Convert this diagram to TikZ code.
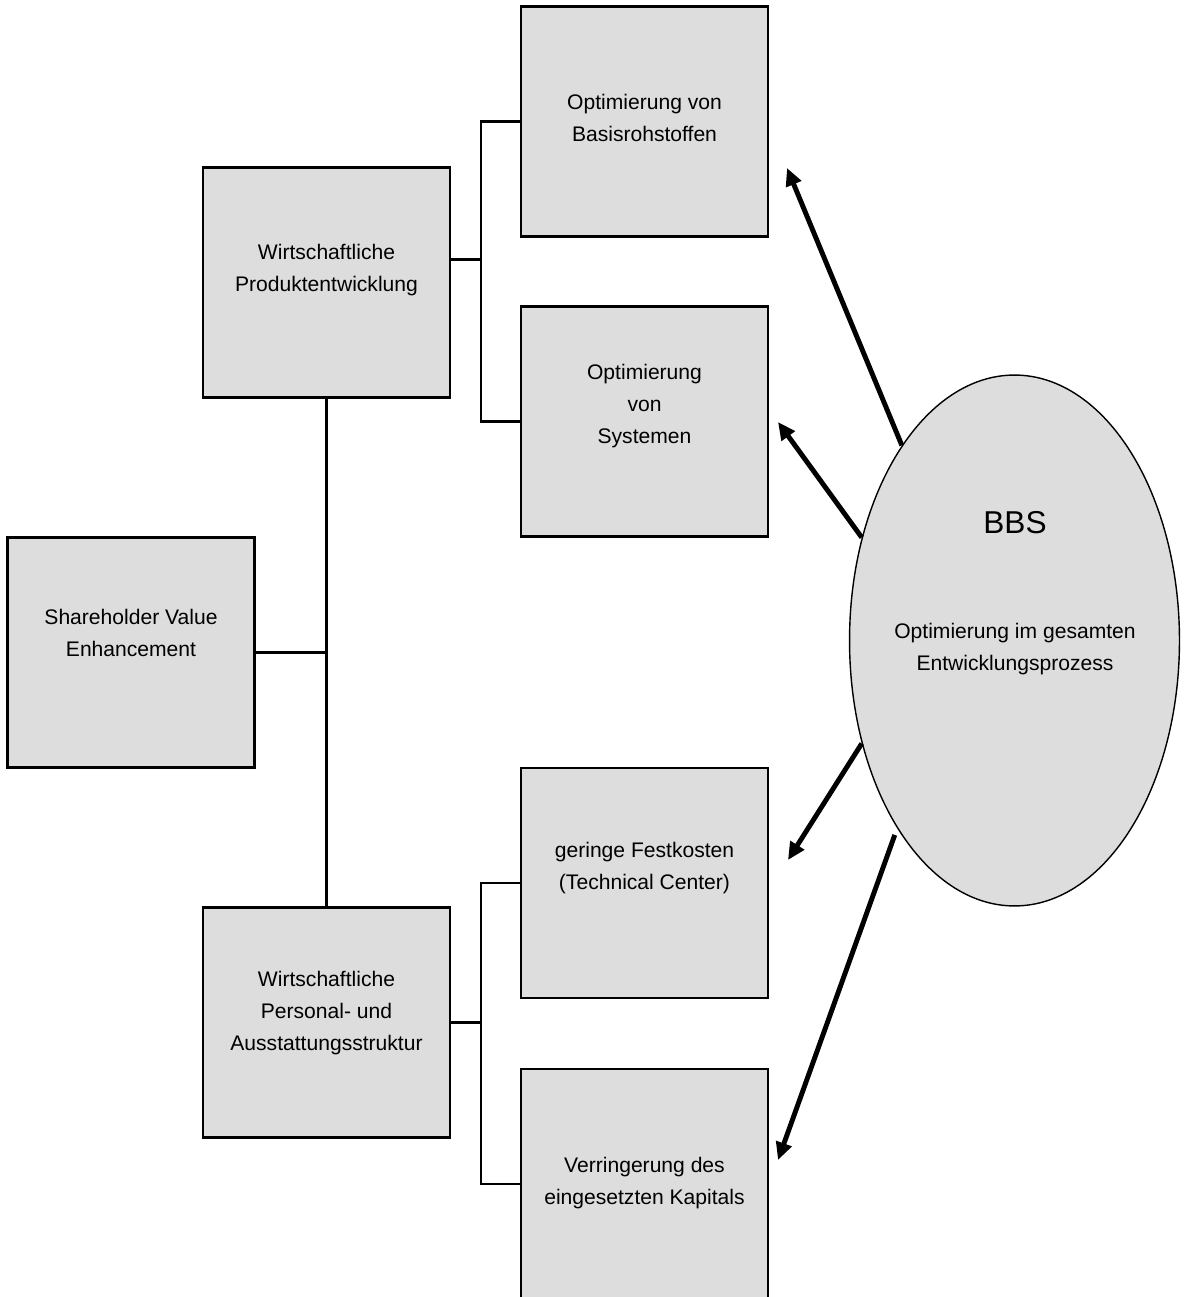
\documentclass[tikz,border=0pt]{standalone}
\usepackage{fontspec}
\setmainfont{Liberation Sans}
\usetikzlibrary{arrows.meta,shapes.geometric}
\definecolor{boxgray}{HTML}{DDDDDD}
\tikzset{
  box/.style={draw, line width=1.2pt, fill=boxgray, minimum width=4.94cm, minimum height=4.6cm, inner sep=0pt},
  boxtext/.style={align=center, font=\fontsize{12}{18}\selectfont},
  link/.style={line width=1.3pt},
  push/.style={line width=2.8pt, -{Triangle[length=10pt,width=9pt]}}
}

\begin{document}
\begin{tikzpicture}[x=0.02cm, y=-0.02cm]
		%%%%% START %%%%%
		\useasboundingbox (0,0) rectangle (1183,1297);
		
		\node[box] (sve) at (131,652.5) {};
		\node[box] (wp) at (326.5,282.5) {};
		\node[box] (wpa) at (326.5,1022.5) {};
		\node[box] (ob) at (644.5,121.5) {};
		\node[box] (os) at (644.5,421.5) {};
		\node[box] (gf) at (644.5,883) {};
		\node[box] (vk) at (644.5,1184) {};
		
		\node[boxtext] (sve-t) at (131,633) {Shareholder Value\\Enhancement};
		\node[boxtext] (wp-t) at (326.5,270) {Wirtschaftliche\\Produktentwicklung};
		\node[boxtext] (wpa-t) at (326.5,1013) {Wirtschaftliche\\Personal- und\\Ausstattungsstruktur};
		\node[boxtext] (ob-t) at (644.5,118) {Optimierung von\\Basisrohstoffen};
		\node[boxtext] (os-t) at (644.5,406) {Optimierung\\von\\Systemen};
		\node[boxtext] (gf-t) at (644.5,868) {geringe Festkosten\\(Technical Center)};
		\node[boxtext] (vk-t) at (644.5,1183) {Verringerung des\\eingesetzten Kapitals};
		
		\coordinate (pbus) at (481,0);
		\coordinate (wp-out) at ([yshift=0.46cm]wp.east);
		\draw[link] (sve.east) -- (sve.east -| wp.south);
		\draw[link] (wp.south) -- (wpa.north);
		\draw[link] (wp-out) -- (wp-out -| pbus);
		\draw[link] (ob.west) -- (ob.west -| pbus) -- (os.west -| pbus) -- (os.west);
		\draw[link] (wpa.east) -- (wpa.east -| pbus);
		\draw[link] (gf.west) -- (gf.west -| pbus) -- (vk.west -| pbus) -- (vk.west);
		
		\node[ellipse, draw, fill=boxgray, line width=0.8pt, minimum width=6.6cm, minimum height=10.62cm, inner sep=0pt] (bbs) at (1014.5,640.5) {};
		\node[font=\fontsize{18}{22}\selectfont] (bbs-t) at (1015,523) {BBS};
		\node[boxtext] (bbs-txt) at (1015,649) {Optimierung im gesamten\\Entwicklungsprozess};
		
		\coordinate (t1) at (787,168);
		\coordinate (t2) at (778,422);
		\coordinate (t3) at (788,860);
		\coordinate (t4) at (778,1160);
		\draw[push] (bbs.120) -- (t1);
		\draw[push] (bbs.146) -- (t2);
		\draw[push] (bbs.214) -- (t3);
		\draw[push, shorten <=4pt] (bbs.238) -- (t4);
		
		%%%%% END %%%%%
\end{tikzpicture}
\end{document}
